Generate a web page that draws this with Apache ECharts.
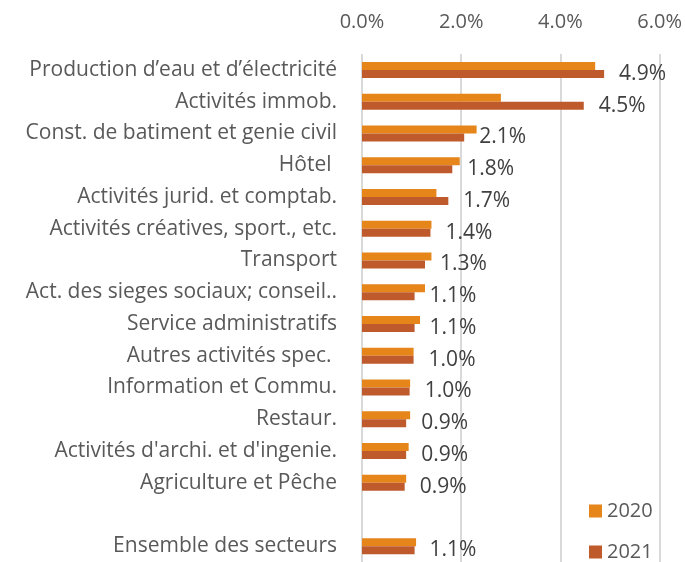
<!DOCTYPE html>
<html>
<head>
<meta charset="utf-8">
<script src="https://cdn.jsdelivr.net/npm/echarts@6/dist/echarts.min.js"></script>
<style>
  html, body { margin: 0; padding: 0; background: #fff; }
  #chart { width: 685px; height: 562px; }
</style>
</head>
<body>
<div id="chart"></div>
<script>
// secteurs, du haut vers le bas ('' = ligne vide avant l'ensemble)
const categories = [
  'Production d’eau et d’électricité',
  'Activités immob.',
  'Const. de batiment et genie civil',
  'Hôtel ',
  'Activités jurid. et comptab.',
  'Activités créatives, sport., etc.',
  'Transport',
  'Act. des sieges sociaux; conseil..',
  'Service administratifs',
  'Autres activités spec. ',
  'Information et Commu.',
  'Restaur.',
  "Activités d'archi. et d'ingenie.",
  'Agriculture et Pêche',
  '',
  'Ensemble des secteurs'
];
const values2020 = [4.70, 2.80, 2.31, 1.97, 1.50, 1.40, 1.40, 1.27, 1.17, 1.04, 0.97, 0.97, 0.94, 0.89, null, 1.09];
const values2021 = [4.88, 4.47, 2.06, 1.82, 1.74, 1.38, 1.27, 1.06, 1.06, 1.04, 0.96, 0.89, 0.89, 0.86, null, 1.06];
const xTicks = [0, 2, 4, 6];

const font = 'Open Sans';
const chart = echarts.init(document.getElementById('chart'));

// une légende par année, empilées en bas à droite
function legendItem(name, top) {
  return {
    data: [name],
    left: 589,
    top: top,
    padding: 0,
    itemWidth: 13,
    itemHeight: 13,
    icon: 'rect',
    textStyle: { fontFamily: font, fontSize: 20, color: '#595959' }
  };
}

chart.setOption({
  animation: false,
  textStyle: { fontFamily: font },
  grid: { left: 362, right: 25, top: 54, bottom: 0 },
  legend: [legendItem('2020', 501), legendItem('2021', 542)],
  xAxis: {
    type: 'value',
    position: 'top',
    min: xTicks[0],
    max: xTicks[xTicks.length - 1],
    interval: 2,
    axisLine: { show: false },
    axisTick: { show: false },
    axisLabel: {
      margin: 22,
      fontSize: 20,
      color: '#595959',
      fontFamily: font,
      formatter: v => v.toFixed(1) + '%'
    },
    splitLine: { lineStyle: { color: '#d9d9d9', width: 2 } }
  },
  yAxis: {
    type: 'category',
    inverse: true,
    data: categories,
    axisLine: { show: false },
    axisTick: { show: false },
    axisLabel: { margin: 25, fontSize: 21, color: '#595959', fontFamily: font }
  },
  series: [
    {
      name: '2020',
      type: 'bar',
      data: values2020,
      barWidth: 8,
      barGap: '0%',
      itemStyle: { color: '#E5851A' }
    },
    {
      name: '2021',
      type: 'bar',
      data: values2021,
      barWidth: 8,
      itemStyle: { color: '#BF5A2C' },
      label: {
        show: true,
        position: 'right',
        distance: 15,
        fontSize: 21,
        color: '#404040',
        fontFamily: font,
        formatter: p => p.value.toFixed(1) + '%'
      }
    }
  ]
});
</script>
</body>
</html>
